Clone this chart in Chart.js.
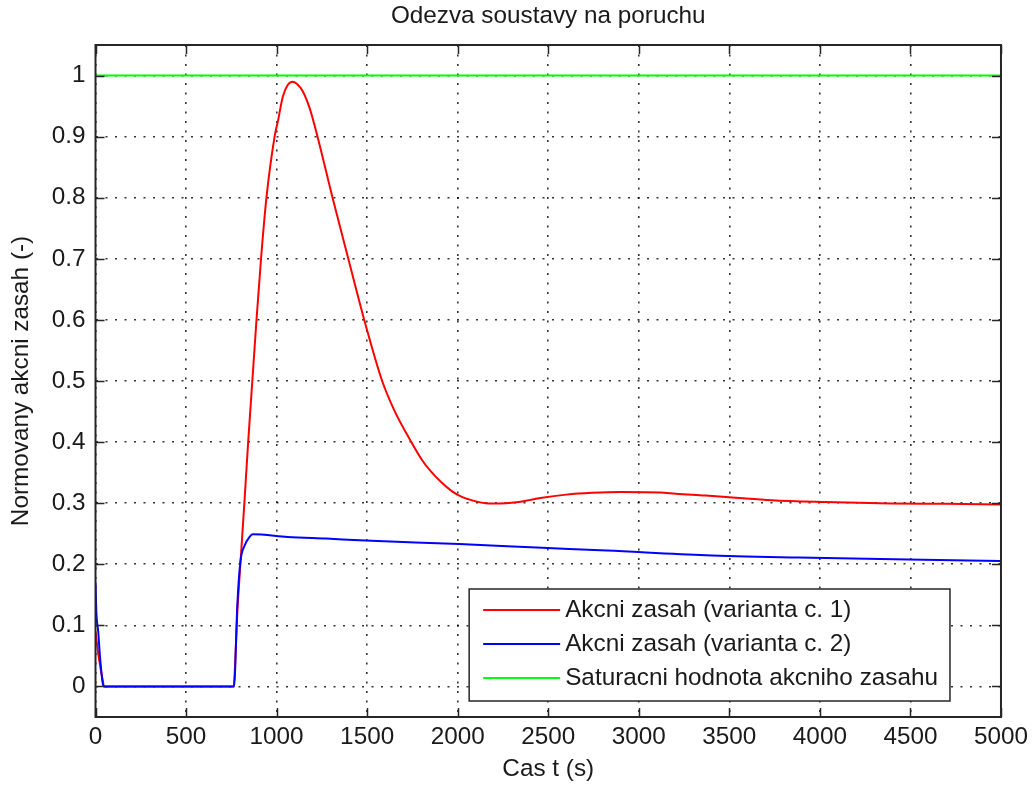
<!DOCTYPE html>
<html>
<head>
<meta charset="utf-8">
<script src="https://cdn.jsdelivr.net/npm/chart.js@4.4.1/dist/chart.umd.min.js"></script>
<style>
  html, body { margin: 0; padding: 0; background: #ffffff; }
  #wrap { width: 1034px; height: 787px; }
</style>
</head>
<body>
<div id="wrap"><canvas id="c" width="1034" height="787"></canvas></div>
<script>
// ---- data ----
const chartTitle = "Odezva soustavy na poruchu";
const xTitle = "Cas t (s)";
const yTitle = "Normovany akcni zasah (-)";
const seriesNames = ["Akcni zasah (varianta c. 1)", "Akcni zasah (varianta c. 2)", "Saturacni hodnota akcniho zasahu"];

const xTicks = [0, 500, 1000, 1500, 2000, 2500, 3000, 3500, 4000, 4500, 5000];
const yTicks = [0, 0.1, 0.2, 0.3, 0.4, 0.5, 0.6, 0.7, 0.8, 0.9, 1];

const t1 = [0, 12, 25, 40, 47, 763, 770, 783, 800, 822, 843, 866, 889, 914, 944, 989, 1007, 1035, 1062, 1088, 1110, 1145, 1182, 1226, 1309, 1396, 1484, 1583, 1650, 1740, 1800, 1852, 1907, 1971, 2026, 2100, 2155, 2230, 2311, 2394, 2466, 2600, 2741, 2900, 3121, 3204, 3369, 3534, 3733, 4030, 4394, 4700, 5000];
const v1 = [0.09, 0.06, 0.035, 0.01, 0, 0, 0.03, 0.12, 0.2, 0.3, 0.4, 0.5, 0.6, 0.7, 0.8, 0.9, 0.925, 0.966, 0.985, 0.99, 0.987, 0.974, 0.947, 0.9, 0.8, 0.7, 0.6, 0.5, 0.452, 0.402, 0.372, 0.352, 0.335, 0.319, 0.31, 0.303, 0.3, 0.2995, 0.301, 0.305, 0.309, 0.314, 0.317, 0.3185, 0.3175, 0.3155, 0.3125, 0.309, 0.305, 0.302, 0.2995, 0.299, 0.298];

const t2 = [0, 5, 15, 25, 40, 47, 765, 783, 800, 824, 851, 868, 1061, 1274, 1489, 2008, 2466, 2824, 3369, 3882, 4488, 5000];
const v2 = [0.17, 0.12, 0.09, 0.048, 0.005, 0, 0, 0.133, 0.204, 0.231, 0.245, 0.249, 0.2448, 0.242, 0.239, 0.233, 0.227, 0.2225, 0.2148, 0.211, 0.2077, 0.2054];

const t3 = [0, 5000];
const v3 = [1, 1];

const colors = ["#ff0000", "#0000ff", "#00ff00"];
// ---------------

const FONT = "'Liberation Sans', Arial, Helvetica, sans-serif";
const FS = 24.3;
const TXT = "#1a1a1a";

function pts(t, v) { return t.map((x, i) => ({ x: x, y: v[i] })); }

const boxPlugin = {
  id: 'matlabBox',
  afterDraw(chart) {
    const { ctx, chartArea: a, scales } = chart;
    const xs = scales.x, ys = scales.y;
    ctx.save();
    // inside ticks
    ctx.strokeStyle = "#262626";
    ctx.lineWidth = 1.5;
    const L = 9;
    ctx.beginPath();
    xTicks.forEach(v => {
      const px = Math.round(xs.getPixelForValue(v)) + 0.5;
      ctx.moveTo(px, a.bottom); ctx.lineTo(px, a.bottom - L);
      ctx.moveTo(px, a.top); ctx.lineTo(px, a.top + L);
    });
    yTicks.forEach(v => {
      const py = Math.round(ys.getPixelForValue(v)) + 0.5;
      ctx.moveTo(a.left, py); ctx.lineTo(a.left + L, py);
      ctx.moveTo(a.right, py); ctx.lineTo(a.right - L, py);
    });
    ctx.stroke();
    // frame
    ctx.lineWidth = 2;
    ctx.strokeRect(a.left, a.top, a.right - a.left, a.bottom - a.top);

    // legend
    ctx.font = FS + "px " + FONT;
    const ds = chart.data.datasets;
    let maxW = 0;
    ds.forEach(d => { maxW = Math.max(maxW, ctx.measureText(d.label).width); });
    const lineLen = 77, gap = 5, padL = 14, padR = 12;
    const rowH = 34;
    const boxW = padL + lineLen + gap + maxW + padR;
    const boxH = 112;
    const bx = a.right - 51 - boxW;
    const by = a.bottom - 16 - boxH;
    ctx.fillStyle = "#ffffff";
    ctx.fillRect(bx, by, boxW, boxH);
    ctx.lineWidth = 1.5;
    ctx.strokeStyle = "#262626";
    ctx.strokeRect(bx, by, boxW, boxH);
    ctx.textBaseline = "middle";
    ctx.textAlign = "left";
    ds.forEach((d, i) => {
      const ry = by + 21 + i * rowH;
      ctx.strokeStyle = d.borderColor;
      ctx.lineWidth = 2;
      ctx.beginPath();
      ctx.moveTo(bx + padL, ry); ctx.lineTo(bx + padL + lineLen, ry);
      ctx.stroke();
      ctx.fillStyle = TXT;
      ctx.fillText(d.label, bx + padL + lineLen + gap, ry);
    });
    ctx.restore();
  }
};

const gridCommon = {
  color: "rgba(0,0,0,0.8)",
  lineWidth: 1.6,
  drawTicks: false,
  tickLength: 0
};

new Chart(document.getElementById('c'), {
  type: 'scatter',
  data: {
    datasets: [
      { label: seriesNames[0], data: pts(t1, v1), borderColor: colors[0], backgroundColor: colors[0], showLine: true, pointRadius: 0, borderWidth: 2, cubicInterpolationMode: 'monotone', order: 3 },
      { label: seriesNames[1], data: pts(t2, v2), borderColor: colors[1], backgroundColor: colors[1], showLine: true, pointRadius: 0, borderWidth: 2, cubicInterpolationMode: 'monotone', order: 2 },
      { label: seriesNames[2], data: pts(t3, v3), borderColor: colors[2], backgroundColor: colors[2], showLine: true, pointRadius: 0, borderWidth: 2, tension: 0, order: 1 }
    ]
  },
  options: {
    responsive: false,
    animation: false,
    devicePixelRatio: 1,
    layout: { padding: { left: 0, right: 31, top: 0, bottom: 0 } },
    plugins: {
      legend: { display: false },
      tooltip: { enabled: false },
      title: {
        display: true,
        text: chartTitle,
        fullSize: false,
        color: TXT,
        font: { family: FONT, size: FS, weight: 'normal', lineHeight: 1.2 },
        padding: { top: 2, bottom: 13.84 }
      }
    },
    scales: {
      x: {
        type: 'linear',
        min: 0, max: 5000,
        afterBuildTicks(scale) { scale.ticks = xTicks.map(v => ({ value: v })); },
        afterFit(scale) { scale.height = 70; },
        grid: gridCommon,
        border: { display: false, dash: [2, 7.5] },
        ticks: { color: TXT, font: { family: FONT, size: FS }, padding: 6, maxRotation: 0, autoSkip: false, callback: v => String(v) },
        title: { display: true, text: xTitle, color: TXT, font: { family: FONT, size: FS, lineHeight: 1.2 }, padding: { top: 0, bottom: 3.4 } }
      },
      y: {
        type: 'linear',
        min: -0.05, max: 1.05,
        afterBuildTicks(scale) { scale.ticks = yTicks.map(v => ({ value: v })); },
        afterFit(scale) { scale.width = 95.5; },
        grid: gridCommon,
        border: { display: false, dash: [2, 7.5] },
        ticks: { color: TXT, font: { family: FONT, size: FS }, padding: 10, autoSkip: false, callback: v => String(Math.round(v * 10) / 10) },
        title: { display: true, text: yTitle, color: TXT, font: { family: FONT, size: FS, lineHeight: 1.2 }, padding: { top: 6.9, bottom: 0 } }
      }
    }
  },
  plugins: [boxPlugin]
});
</script>
</body>
</html>
